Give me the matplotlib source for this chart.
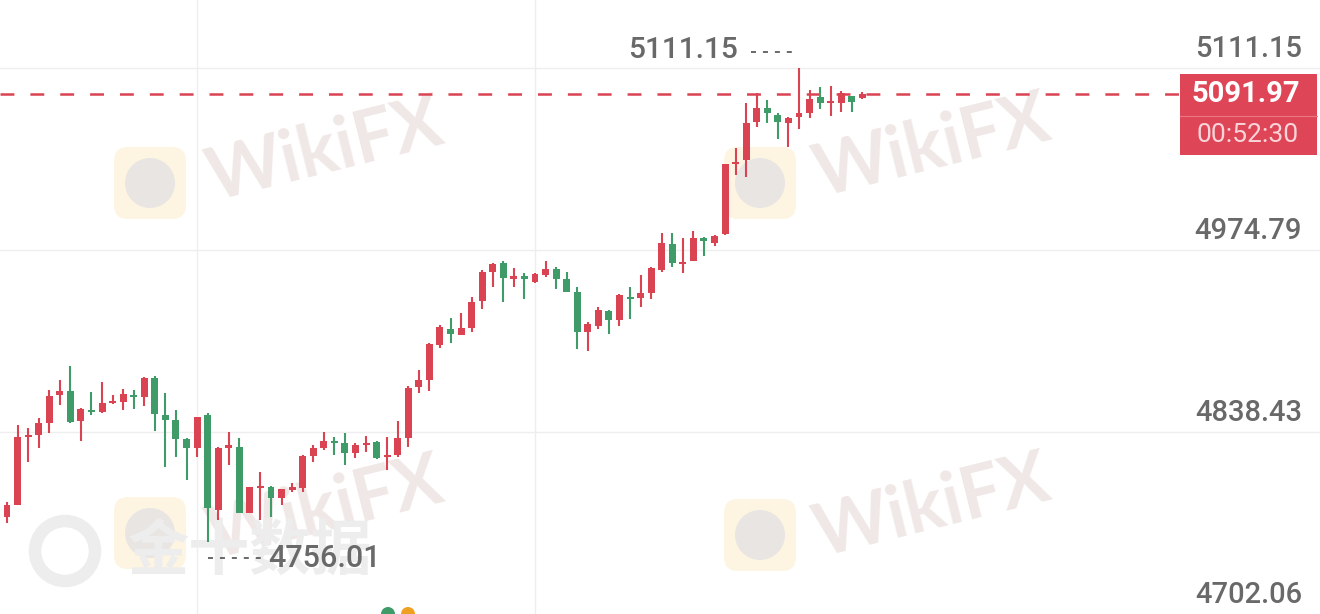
import matplotlib.pyplot as plt
import matplotlib.transforms as mtransforms
from matplotlib.patches import FancyBboxPatch, Circle, Rectangle

plt.rcParams['lines.scale_dashes'] = False

# OHLC, one entry per candle
opens = [4774.8, 4783.8, 4834.7, 4836.2, 4845.2, 4866.2, 4869.2, 4846.7, 4854.9, 4853.4,
         4860.2, 4860.9, 4866.2, 4864.7, 4878.9, 4851.2, 4847.4, 4833.2, 4826.5, 4851.2,
         4780.0, 4826.5, 4827.2, 4777.8, 4797.0, 4797.2, 4789.0, 4795.0, 4796.5, 4820.5,
         4826.5, 4831.7, 4830.2, 4822.7, 4828.7, 4831.0, 4819.7, 4821.2, 4834.0, 4872.2,
         4877.4, 4903.6, 4915.6, 4911.1, 4916.4, 4936.6, 4958.3, 4965.1, 4953.1, 4955.3,
         4950.8, 4956.1, 4960.6, 4953.1, 4943.3, 4913.4, 4917.9, 4929.1, 4922.4, 4939.3,
         4938.8, 4942.6, 4959.8, 4979.3, 4964.6, 4966.6, 4983.8, 4980.0, 4986.8, 5039.2,
         5042.2, 5070.7, 5081.2, 5075.9, 5070.0, 5074.4, 5077.4, 5089.4, 5085.2, 5084.9,
         5090.2, 5089.0]
highs = [4786.0, 4843.7, 4841.4, 4848.9, 4869.9, 4877.4, 4887.9, 4856.4, 4868.4, 4875.9,
         4866.2, 4870.7, 4869.9, 4879.7, 4880.4, 4867.7, 4854.9, 4834.0, 4849.7, 4852.7,
         4827.2, 4838.5, 4834.0, 4797.2, 4808.5, 4798.0, 4795.7, 4800.2, 4821.2, 4828.7,
         4838.5, 4834.7, 4837.7, 4830.2, 4835.5, 4831.7, 4834.7, 4846.7, 4872.9, 4884.9,
         4905.1, 4918.6, 4923.9, 4927.6, 4939.6, 4959.8, 4965.1, 4966.6, 4961.3, 4957.6,
         4957.6, 4966.6, 4962.1, 4958.3, 4947.1, 4920.9, 4932.1, 4929.9, 4941.8, 4947.1,
         4956.1, 4962.1, 4987.5, 4987.5, 4983.8, 4989.0, 4984.5, 4986.0, 5039.2, 5051.2,
         5084.9, 5092.4, 5087.2, 5077.4, 5074.4, 5111.15, 5094.7, 5096.9, 5097.7, 5093.9,
         5090.2, 5093.2]
lows = [4770.3, 4783.8, 4816.0, 4826.5, 4837.7, 4858.7, 4845.2, 4831.7, 4851.2, 4852.7,
        4859.4, 4854.9, 4855.7, 4857.9, 4839.2, 4812.2, 4819.7, 4802.5, 4819.7, 4756.01,
        4772.5, 4813.7, 4777.8, 4777.8, 4772.5, 4774.8, 4783.8, 4793.5, 4793.5, 4816.0,
        4825.0, 4821.2, 4813.7, 4819.0, 4823.5, 4818.2, 4810.0, 4819.7, 4827.2, 4867.7,
        4869.2, 4901.4, 4905.1, 4911.1, 4913.4, 4930.6, 4947.1, 4935.8, 4947.1, 4938.1,
        4950.1, 4954.6, 4945.6, 4943.3, 4900.6, 4899.1, 4915.6, 4911.9, 4917.9, 4923.1,
        4932.1, 4938.1, 4958.3, 4962.1, 4957.6, 4966.6, 4970.3, 4977.8, 4986.0, 5031.0,
        5029.5, 5067.0, 5070.0, 5058.0, 5052.0, 5065.5, 5073.7, 5080.4, 5075.2, 5078.2,
        5078.2, 5087.9]
closes = [4783.8, 4834.7, 4836.2, 4845.2, 4865.4, 4869.2, 4845.9, 4855.7, 4853.4, 4860.2,
          4861.7, 4866.9, 4864.7, 4878.9, 4851.9, 4847.4, 4833.2, 4826.5, 4849.7, 4781.5,
          4826.5, 4828.7, 4777.8, 4797.2, 4797.5, 4789.0, 4795.7, 4797.2, 4820.5, 4826.5,
          4831.7, 4830.2, 4822.7, 4828.7, 4830.2, 4819.0, 4821.2, 4834.0, 4871.4, 4877.4,
          4904.4, 4917.1, 4911.9, 4916.4, 4935.8, 4958.3, 4964.3, 4953.8, 4955.3, 4953.1,
          4956.8, 4960.6, 4953.1, 4943.3, 4913.4, 4919.4, 4929.9, 4922.4, 4941.1, 4938.8,
          4942.6, 4961.3, 4980.0, 4965.1, 4965.5, 4983.8, 4981.5, 4985.3, 5039.2, 5040.7,
          5070.0, 5081.2, 5077.4, 5070.7, 5073.7, 5077.4, 5087.9, 5084.9, 5086.0, 5092.4,
          5085.7, 5091.97]

axis_prices = [5111.15, 4974.79, 4838.43, 4702.06]
axis_labels = ['5111.15', '4974.79', '4838.43', '4702.06']
grid_idx = [18, 50]
last_price = 5091.97
countdown = '00:52:30'

UP = '#da4352'
DOWN = '#3f9c69'
GREY = '#696969'
W, H = 1320, 614

fig = plt.figure(figsize=(13.2, 6.14), dpi=100)
fig.patch.set_facecolor('white')

# background layer in pixel coordinates for the watermarks
bg = fig.add_axes([0, 0, 1, 1])
bg.set_xlim(0, W)
bg.set_ylim(H, 0)
bg.axis('off')

for tx, ty, lx, ly in [(325, 152, 150, 183), (932, 148, 760, 183),
                       (325, 510, 150, 533), (932, 508, 760, 535)]:
    bg.text(tx, ty, 'WikiFX', rotation=14, fontsize=52, fontweight='bold',
            family='Lato', color='#efe8e6', ha='center', va='center')
    bg.add_patch(FancyBboxPatch((lx - 36, ly - 36), 72, 72,
                                boxstyle='round,pad=0,rounding_size=14',
                                fc='#fdf5e2', ec='none'))
    bg.add_patch(Circle((lx, ly), 25, fc='#e8e5e2', ec='none'))

bg.add_patch(Circle((65, 551), 30, fc='none', ec='#ededed', lw=9))
bg.text(250, 552, '金十数据', fontsize=44, fontweight='bold',
        family=['Noto Sans CJK SC', 'DejaVu Sans'], color='#ededed',
        ha='center', va='center')
bg.add_patch(Circle((388, 614), 7, fc='#3f9c69', ec='none'))
bg.add_patch(Circle((408, 614), 7, fc='#f0a020', ec='none'))

# chart layer
ax = fig.add_axes([0, 0, 1, 1])
ax.set_facecolor('none')
for s in ax.spines.values():
    s.set_visible(False)
ax.set_xticks([])
ax.set_yticks([])
x0 = -7 / 10.56
x1 = (W - 7) / 10.56
y0 = 4702.06
y1 = 5162.1
ax.set_xlim(x0, x1)
ax.set_ylim(y0, y1)
ppx = (x1 - x0) / W   # index units per pixel
ppy = (y1 - y0) / H   # price per pixel
blend = mtransforms.blended_transform_factory(ax.transAxes, ax.transData)

for p in axis_prices[:3]:
    ax.axhline(p, color='#eeeeee', lw=1, zorder=0)
for g in grid_idx:
    ax.axvline(g, color='#eeeeee', lw=1, zorder=0)

for p, lab in zip(axis_prices, axis_labels):
    ax.text(1302 / W, p + 11 * ppy, lab, transform=blend, ha='right', va='baseline',
            fontsize=21, family='Roboto', fontweight='medium', color=GREY)

n = len(opens)
xs = list(range(n))
body_lo = []
body_h = []
cols = []
for o, c in zip(opens, closes):
    lo = min(o, c)
    h = max(abs(c - o), 1.6)
    if abs(c - o) < 1.6:
        lo = (o + c) / 2 - 0.8
    body_lo.append(lo)
    body_h.append(h)
    cols.append(UP if c >= o else DOWN)

ax.vlines(xs, lows, highs, colors=cols, lw=1.5, zorder=3)
ax.bar(xs, body_h, bottom=body_lo, width=0.66, color=cols, zorder=4)

# last price line and tag
ax.plot([x0, 1180 * ppx + x0], [last_price, last_price], color=UP, lw=1.8,
        dashes=(10, 11.5), zorder=2)
ax.add_patch(Rectangle((1180 / W, last_price - 61 * ppy), 137 / W, 81 * ppy,
                       transform=blend, fc='#de4657', ec='none', zorder=5))
ax.plot([1180 / W, 1317 / W], [last_price - 22 * ppy] * 2, transform=blend,
        color='#e97784', lw=0.8, zorder=6)
ax.text(1300 / W, last_price, f'{last_price:.2f}', transform=blend, ha='right',
        va='center', fontsize=21, family='Roboto', fontweight='bold',
        color='white', zorder=7)
ax.text(1299 / W, last_price - 41 * ppy, countdown, transform=blend, ha='right',
        va='center', fontsize=19, family='Roboto', color='#f9d4d9', zorder=7)

# max / min markers
hi_i = highs.index(max(highs))
lo_i = lows.index(min(lows))
hi = highs[hi_i]
lo = lows[lo_i]
ax.plot([hi_i - 48 * ppx, hi_i - 5 * ppx], [hi + 16 * ppy] * 2, color=GREY, lw=1.4,
        dashes=(3.6, 5.0), zorder=3)
ax.text(hi_i - 61 * ppx, hi + 18 * ppy, f'{hi:.2f}', ha='right', va='center',
        fontsize=21.5, family='Roboto', fontweight='medium', color=GREY)
ax.plot([lo_i, lo_i + 54 * ppx], [lo - 16 * ppy] * 2, color=GREY, lw=1.4,
        dashes=(3.6, 5.0), zorder=3)
ax.text(lo_i + 60 * ppx, lo - 17 * ppy, f'{lo:.2f}', ha='left', va='center',
        fontsize=22, family='Roboto', fontweight='medium', color=GREY, zorder=6)

fig.savefig('out.png', dpi=100, facecolor='white')
